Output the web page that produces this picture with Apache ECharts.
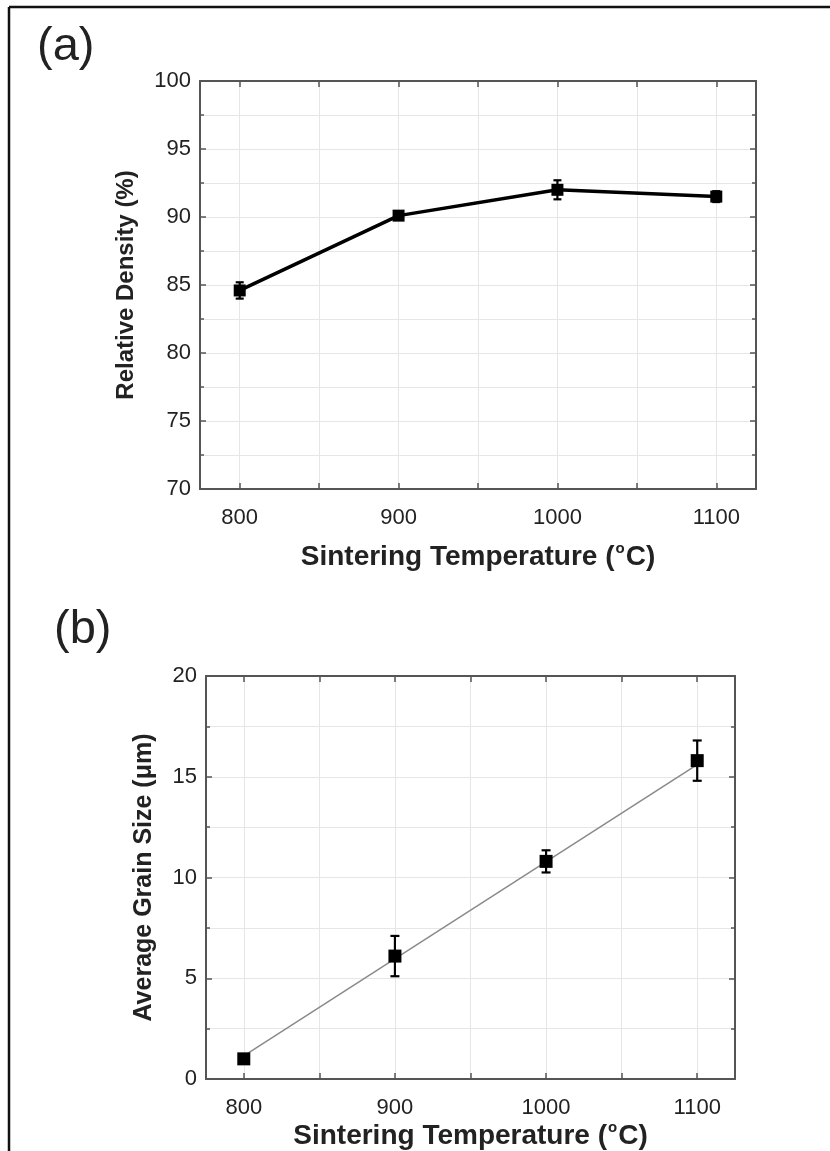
<!DOCTYPE html>
<html>
<head>
<meta charset="utf-8">
<script src="https://cdn.jsdelivr.net/npm/echarts@6/dist/echarts.min.js"></script>
<style>
html,body{margin:0;padding:0;background:#fff;}
#chart{width:830px;height:1151px;}
</style>
</head>
<body>
<div id="chart"></div>
<script>
// ---- data ----
const temps = [800, 900, 1000, 1100];
const densityVals = [84.6, 90.1, 92.0, 91.5];
const densityErr = [0.6, 0.3, 0.7, 0.4];
const grainVals = [1.0, 6.1, 10.8, 15.8];
const grainErr = [0.2, 1.0, 0.55, 1.0];
const fitTemps = [800, 1100];
const fitVals = [1.15, 15.6];
const xLabelValues = [800, 900, 1000, 1100];
const xTickValues = [800, 850, 900, 950, 1000, 1050, 1100];
const densityTicks = [70, 100, 5];
const grainTicks = [0, 20, 5];

const FONT = "'Liberation Sans', Arial, sans-serif";
const AXIS_COLOR = '#555';
const GRID_COLOR = '#e6e6e6';

const chart = echarts.init(document.getElementById('chart'), null, {renderer: 'canvas'});

function xAxisMain(gridIndex, nameGap, labelMargin) {
  return {
    type: 'value', gridIndex, min: 775, max: 1125, position: 'bottom',
    name: '{t|Sintering Temperature (}{s|o}{t|C)}',
    nameLocation: 'middle', nameGap: nameGap,
    nameTextStyle: {
      rich: {
        t: {fontFamily: FONT, fontSize: 28, fontWeight: 'bold', color: '#222', lineHeight: 32},
        s: {fontFamily: FONT, fontSize: 15, fontWeight: 'bold', color: '#222', lineHeight: 10, verticalAlign: 'top', padding: [0, 1, 0, 1]}
      }
    },
    axisLine: {show: true, onZero: false, lineStyle: {color: AXIS_COLOR, width: 2}},
    axisTick: {show: true, inside: true, length: 6, customValues: xTickValues, lineStyle: {color: AXIS_COLOR, width: 1.5}},
    axisLabel: {show: true, customValues: xLabelValues, margin: labelMargin, fontFamily: FONT, fontSize: 22, color: '#222',
      formatter: v => String(v)},
    splitLine: {show: true, lineStyle: {color: GRID_COLOR, width: 1}}
  };
}
function xAxisMirror(gridIndex) {
  return {
    type: 'value', gridIndex, min: 775, max: 1125, position: 'top',
    axisLine: {show: true, onZero: false, lineStyle: {color: AXIS_COLOR, width: 2}},
    axisTick: {show: true, inside: true, length: 6, customValues: xTickValues, lineStyle: {color: AXIS_COLOR, width: 1.5}},
    axisLabel: {show: false},
    splitLine: {show: false}
  };
}
function yAxisMain(gridIndex, t, name, nameGap, nameSize) {
  return {
    type: 'value', gridIndex, min: t[0], max: t[1], interval: t[2], position: 'left',
    name: name, nameLocation: 'middle', nameGap: nameGap,
    nameTextStyle: {fontFamily: FONT, fontSize: nameSize, fontWeight: 'bold', color: '#222'},
    axisLine: {show: true, onZero: false, lineStyle: {color: AXIS_COLOR, width: 2}},
    axisTick: {show: true, inside: true, length: 6, lineStyle: {color: AXIS_COLOR, width: 1.5}},
    minorTick: {show: true, splitNumber: 2, length: 4, lineStyle: {color: AXIS_COLOR, width: 1.5}},
    axisLabel: {margin: 9, fontFamily: FONT, fontSize: 22, color: '#222', formatter: v => String(v)},
    splitLine: {show: true, lineStyle: {color: GRID_COLOR, width: 1}},
    minorSplitLine: {show: true, lineStyle: {color: GRID_COLOR, width: 1}}
  };
}
function yAxisMirror(gridIndex, t) {
  return {
    type: 'value', gridIndex, min: t[0], max: t[1], interval: t[2], position: 'right',
    axisLine: {show: true, onZero: false, lineStyle: {color: AXIS_COLOR, width: 2}},
    axisTick: {show: true, inside: true, length: 6, lineStyle: {color: AXIS_COLOR, width: 1.5}},
    minorTick: {show: true, splitNumber: 2, length: 4, lineStyle: {color: AXIS_COLOR, width: 1.5}},
    axisLabel: {show: false},
    splitLine: {show: false}
  };
}

function errorBarSeries(xAxisIndex, yAxisIndex, vals, errs, cap, width) {
  return {
    type: 'custom', xAxisIndex, yAxisIndex, z: 5, silent: true,
    data: temps.map((t, i) => [t, vals[i], errs[i]]),
    renderItem: function (params, api) {
      const x = api.value(0), y = api.value(1), e = api.value(2);
      const top = api.coord([x, y + e]);
      const bot = api.coord([x, y - e]);
      const style = {stroke: '#000', lineWidth: width};
      return {
        type: 'group',
        children: [
          {type: 'line', shape: {x1: top[0], y1: top[1], x2: bot[0], y2: bot[1]}, style},
          {type: 'line', shape: {x1: top[0] - cap, y1: top[1], x2: top[0] + cap, y2: top[1]}, style},
          {type: 'line', shape: {x1: bot[0] - cap, y1: bot[1], x2: bot[0] + cap, y2: bot[1]}, style}
        ]
      };
    }
  };
}

const option = {
  backgroundColor: '#ffffff',
  animation: false,
  grid: [
    {left: 200, top: 81, width: 556, height: 408},
    {left: 206, top: 676, width: 529, height: 408}
  ],
  xAxis: [xAxisMain(0, 52, 18), xAxisMirror(0), xAxisMain(1, 41, 18), xAxisMirror(1)],
  yAxis: [
    yAxisMain(0, densityTicks, 'Relative Density (%)', 62, 24),
    yAxisMirror(0, densityTicks),
    yAxisMain(1, grainTicks, 'Average Grain Size (μm)', 49, 25),
    yAxisMirror(1, grainTicks)
  ],
  series: [
    {
      type: 'line', xAxisIndex: 0, yAxisIndex: 0, z: 4,
      data: temps.map((t, i) => [t, densityVals[i]]),
      lineStyle: {color: '#000', width: 3.5},
      symbol: 'rect', symbolSize: 12, itemStyle: {color: '#000', opacity: 1}
    },
    errorBarSeries(0, 0, densityVals, densityErr, 4, 2.2),
    {
      type: 'line', xAxisIndex: 2, yAxisIndex: 2, z: 3,
      data: fitTemps.map((t, i) => [t, fitVals[i]]),
      lineStyle: {color: '#8a8a8a', width: 1.5},
      symbol: 'none'
    },
    {
      type: 'scatter', xAxisIndex: 2, yAxisIndex: 2, z: 4,
      data: temps.map((t, i) => [t, grainVals[i]]),
      symbol: 'rect', symbolSize: 13, itemStyle: {color: '#000', opacity: 1}
    },
    errorBarSeries(2, 2, grainVals, grainErr, 4.5, 2.2)
  ],
  graphic: [
    {type: 'line', shape: {x1: 9, y1: 7, x2: 9, y2: 1151}, style: {stroke: '#111', lineWidth: 2.5}},
    {type: 'line', shape: {x1: 9, y1: 7, x2: 830, y2: 7}, style: {stroke: '#111', lineWidth: 2.5}},
    {type: 'text', left: 37, top: 24, style: {text: '(a)', fontFamily: FONT, fontSize: 47, fill: '#222'}},
    {type: 'text', left: 54, top: 607, style: {text: '(b)', fontFamily: FONT, fontSize: 47, fill: '#222'}}
  ]
};
chart.setOption(option);
</script>
</body>
</html>
